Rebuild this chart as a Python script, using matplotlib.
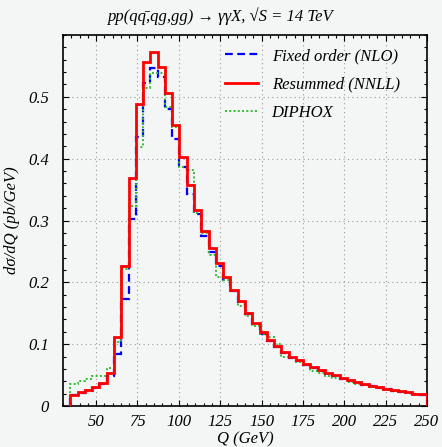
import numpy as np
import matplotlib
matplotlib.use('Agg')
import matplotlib.pyplot as plt
from matplotlib.ticker import MultipleLocator, FuncFormatter

plt.rcParams['font.family'] = ['Liberation Serif', 'DejaVu Serif']
plt.rcParams['font.style'] = 'italic'

# bin edges of the Q histogram (GeV)
edges = [34.4, 38.8, 43.2, 47.6, 52.0, 56.4, 60.8, 65.2, 69.6, 74.0,
         78.4, 82.8, 87.2, 91.6, 96.0, 100.4, 104.8, 109.2, 113.6, 118.0,
         122.4, 126.8, 131.2, 135.6, 140.0, 144.4, 148.8, 153.2, 157.6, 162.0,
         166.4, 170.8, 175.2, 179.6, 184.0, 188.4, 192.8, 197.2, 201.6, 206.0,
         210.4, 214.8, 219.2, 223.6, 228.0, 232.4, 236.8, 241.2, 245.6, 250.0]

resummed = [0.018, 0.023, 0.026, 0.031, 0.037, 0.054, 0.112, 0.226, 0.369, 0.489,
            0.557, 0.572, 0.549, 0.506, 0.454, 0.403, 0.357, 0.317, 0.283, 0.256,
            0.232, 0.208, 0.188, 0.170, 0.150, 0.134, 0.119, 0.107, 0.097, 0.088,
            0.080, 0.074, 0.068, 0.063, 0.058, 0.054, 0.050, 0.046, 0.042, 0.039,
            0.036, 0.033, 0.031, 0.028, 0.026, 0.024, 0.022, 0.020, 0.019]

fixed_order = [0.017, 0.021, 0.025, 0.029, 0.035, 0.048, 0.084, 0.173, 0.302, 0.435,
               0.522, 0.546, 0.532, 0.480, 0.432, 0.386, 0.343, 0.310, 0.275, 0.249,
               0.227, 0.204, 0.186, 0.168, 0.148, 0.132, 0.117, 0.105, 0.095, 0.086,
               0.078, 0.072, 0.066, 0.061, 0.056, 0.052, 0.048, 0.044, 0.040, 0.037,
               0.034, 0.032, 0.029, 0.027, 0.025, 0.023, 0.021, 0.019, 0.018]

diphox = [0.036, 0.041, 0.044, 0.048, 0.048, 0.061, 0.103, 0.222, 0.323, 0.419,
          0.515, 0.538, 0.538, 0.483, 0.451, 0.386, 0.381, 0.312, 0.279, 0.244,
          0.209, 0.204, 0.186, 0.162, 0.145, 0.129, 0.117, 0.112, 0.100, 0.080,
          0.077, 0.071, 0.067, 0.057, 0.054, 0.049, 0.046, 0.043, 0.039, 0.036,
          0.034, 0.031, 0.029, 0.026, 0.024, 0.022, 0.021, 0.019, 0.018]

bg = '#f4f5f5'
fig = plt.figure(figsize=(4.42, 4.47), dpi=100, facecolor=bg)
ax = fig.add_axes([0.1425, 0.0917, 0.8235, 0.83])
ax.set_facecolor(bg)

ax.stairs(fixed_order, edges, color='#0000ff', lw=1.6, ls=(0, (3.5, 2)),
          label='Fixed order (NLO)', zorder=3)
ax.stairs(diphox, edges, color='#33bb33', lw=1.4, ls=(0, (1, 1.2)),
          label='DIPHOX', zorder=3)
ax.stairs(resummed, edges, color='#ff0000', lw=2.0,
          label='Resummed (NNLL)', zorder=4)

ax.set_xlim(30, 250)
ax.set_ylim(0, 0.6)
ax.xaxis.set_minor_locator(MultipleLocator(5))
ax.yaxis.set_minor_locator(MultipleLocator(0.02))
ax.set_xticks([50, 75, 100, 125, 150, 175, 200, 225, 250])
ax.set_yticks([0, 0.1, 0.2, 0.3, 0.4, 0.5])
ax.yaxis.set_major_formatter(FuncFormatter(lambda v, p: '0' if abs(v) < 1e-9 else f'{v:g}'))

ax.tick_params(which='both', direction='in', top=True, right=True, labelsize=12)
ax.tick_params(which='major', length=4, width=0.8)
ax.tick_params(which='minor', length=2, width=0.8)
ax.tick_params(axis='y', pad=10)
ax.tick_params(axis='x', pad=6)
ax.grid(True, which='major', ls=(0, (1, 3)), color='#999999', lw=0.8)
for s in ax.spines.values():
    s.set_linewidth(1.2)

ax.set_xlabel('Q (GeV)', fontsize=12, labelpad=1)
ax.set_ylabel('dσ/dQ (pb/GeV)', fontsize=12, labelpad=6)

h, l = ax.get_legend_handles_labels()
order = [0, 2, 1]
ax.legend([h[i] for i in order], [l[i] for i in order], loc='upper left',
          bbox_to_anchor=(0.445, 0.965), frameon=False, fontsize=12,
          borderpad=0, borderaxespad=0, handlelength=2.0, handletextpad=0.8,
          labelspacing=0.75)

# q-bar written with a combining macron
fig.text(0.5, 0.965, 'pp(qq\u0304,qg,gg) → γγX, √S = 14 TeV',
         ha='center', va='center', fontsize=12)

fig.savefig('out.png', dpi=100, facecolor=bg)
